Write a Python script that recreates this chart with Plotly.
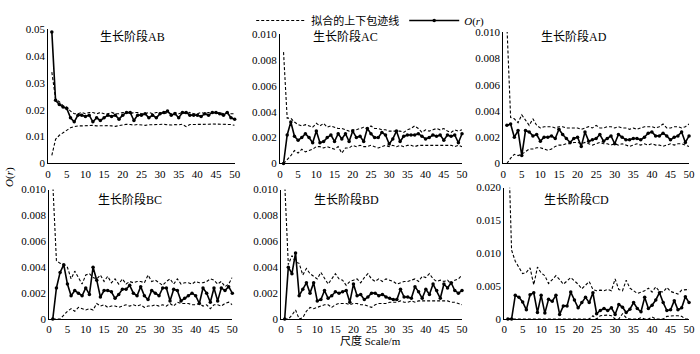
import plotly.graph_objects as go

r = list(range(1, 51))
panel_names = ["生长阶段AB", "生长阶段AC", "生长阶段AD", "生长阶段BC", "生长阶段BD", "生长阶段CD"]
x_ticks = [0, 5, 10, 15, 20, 25, 30, 35, 40, 45, 50]

AB_O = [0.049, 0.0235, 0.022, 0.021, 0.0205, 0.017, 0.0155, 0.018, 0.018, 0.0175,
        0.018, 0.0155, 0.017, 0.016, 0.017, 0.018, 0.0175, 0.018, 0.0165, 0.018,
        0.019, 0.019, 0.016, 0.018, 0.018, 0.0185, 0.017, 0.018, 0.017, 0.0185,
        0.019, 0.0195, 0.018, 0.0185, 0.017, 0.019, 0.019, 0.018, 0.018, 0.018,
        0.0175, 0.0185, 0.018, 0.019, 0.019, 0.0185, 0.018, 0.019, 0.017, 0.0165]
AB_up = [0.034, 0.024, 0.023, 0.0215, 0.021, 0.0195, 0.0185, 0.0185, 0.019, 0.0185,
         0.019, 0.019, 0.0185, 0.019, 0.0185, 0.0185, 0.019, 0.0185, 0.0185, 0.019,
         0.019, 0.0185, 0.019, 0.019, 0.0185, 0.0185, 0.019, 0.0185, 0.019, 0.019,
         0.0185, 0.019, 0.0185, 0.019, 0.0185, 0.019, 0.0185, 0.019, 0.0185, 0.0185,
         0.019, 0.0185, 0.019, 0.019, 0.0185, 0.019, 0.0185, 0.019, 0.0185, 0.0185]
AB_lo = [0.003, 0.009, 0.0105, 0.0115, 0.0125, 0.0133, 0.0137, 0.014, 0.014, 0.0141,
         0.0141, 0.0142, 0.014, 0.0141, 0.0142, 0.0141, 0.014, 0.0138, 0.0141, 0.0143,
         0.0146, 0.0145, 0.0143, 0.0145, 0.0144, 0.0142, 0.0144, 0.0145, 0.0144, 0.0145,
         0.0146, 0.0144, 0.0143, 0.0145, 0.0144, 0.0146, 0.0137, 0.0145, 0.0145, 0.0146,
         0.0145, 0.0144, 0.0146, 0.0147, 0.0147, 0.0146, 0.0145, 0.0146, 0.0145, 0.0142]

AC_O = [0, 0.0022, 0.0032, 0.0021, 0.0018, 0.002, 0.0023, 0.002, 0.0016, 0.0025,
        0.0016, 0.0017, 0.002, 0.0022, 0.0017, 0.0023, 0.0019, 0.0023, 0.0017, 0.0025,
        0.002, 0.0021, 0.0017, 0.0027, 0.0023, 0.002, 0.002, 0.0024, 0.0022, 0.0015,
        0.0019, 0.0025, 0.0017, 0.0021, 0.0022, 0.0022, 0.0022, 0.0023, 0.0021, 0.0019,
        0.002, 0.0022, 0.0021, 0.0022, 0.0018, 0.0022, 0.0021, 0.0022, 0.0016, 0.0023]
AC_up = [0.0086, 0.0035, 0.0035, 0.0032, 0.003, 0.0029, 0.003, 0.0029, 0.0028, 0.0031,
         0.0029, 0.0031, 0.0028, 0.0029, 0.0028, 0.0027, 0.0027, 0.0026, 0.0025, 0.0026,
         0.0026, 0.0027, 0.0028, 0.0027, 0.0029, 0.0027, 0.0027, 0.0026, 0.0026, 0.0025,
         0.0025, 0.0025, 0.0025, 0.0024, 0.0026, 0.0027, 0.0029, 0.0027, 0.0024, 0.0026,
         0.0025, 0.0026, 0.0027, 0.0026, 0.0027, 0.0025, 0.0024, 0.0026, 0.0025, 0.0026]
AC_lo = [0, 0.0003, 0.0006, 0.001, 0.0008, 0.0011, 0.0009, 0.001, 0.0011, 0.0013,
         0.0013, 0.0012, 0.0013, 0.0012, 0.0011, 0.0013, 0.0008, 0.0012, 0.0012, 0.0014,
         0.0013, 0.0014, 0.0013, 0.0013, 0.0014, 0.0013, 0.0012, 0.0013, 0.0014, 0.0013,
         0.0014, 0.0013, 0.0014, 0.0013, 0.0014, 0.0014, 0.0013, 0.0014, 0.0014, 0.0014,
         0.0014, 0.0014, 0.0014, 0.0014, 0.0014, 0.0014, 0.0014, 0.0013, 0.0014, 0.0013]

AD_O = [0.0029, 0.003, 0.002, 0.0025, 0.0006, 0.0025, 0.0024, 0.0021, 0.0022, 0.0017,
        0.002, 0.002, 0.0021, 0.0019, 0.0026, 0.0022, 0.0019, 0.0016, 0.0019, 0.002,
        0.0013, 0.0024, 0.0017, 0.0018, 0.0019, 0.0022, 0.0017, 0.0019, 0.0021, 0.0015,
        0.0022, 0.002, 0.0018, 0.0018, 0.0019, 0.0019, 0.0018, 0.002, 0.0023, 0.0024,
        0.0021, 0.0021, 0.0023, 0.0021, 0.0018, 0.002, 0.0021, 0.0024, 0.0016, 0.0021]
AD_up = [0.0105, 0.0035, 0.0034, 0.0031, 0.0037, 0.0033, 0.0029, 0.0034, 0.0029, 0.0027,
         0.0028, 0.0028, 0.0028, 0.0027, 0.0028, 0.0028, 0.0027, 0.0027, 0.0027, 0.0027,
         0.0026, 0.0027, 0.0028, 0.0027, 0.0029, 0.0027, 0.0027, 0.0028, 0.0028, 0.0027,
         0.0028, 0.0027, 0.0027, 0.0026, 0.0027, 0.0026, 0.0027, 0.0028, 0.0028, 0.0028,
         0.0027, 0.0028, 0.003, 0.0027, 0.0027, 0.0028, 0.0028, 0.0027, 0.0028, 0.003]
AD_lo = [0, 0.0004, 0.0007, 0.0006, 0.0007, 0.0009, 0.0011, 0.0011, 0.0012, 0.0012,
         0.0011, 0.001, 0.0011, 0.0013, 0.0014, 0.0014, 0.0015, 0.0015, 0.0016, 0.0016,
         0.0015, 0.0016, 0.0015, 0.0014, 0.0015, 0.0016, 0.0015, 0.0015, 0.0014, 0.0015,
         0.0014, 0.0015, 0.0014, 0.0013, 0.0014, 0.0015, 0.0014, 0.0015, 0.0014, 0.0015,
         0.0014, 0.0014, 0.0013, 0.0014, 0.0015, 0.0014, 0.0015, 0.0015, 0.0014, 0.0013]

BC_O = [0, 0.0024, 0.0036, 0.0042, 0.0027, 0.0018, 0.0022, 0.002, 0.0018, 0.0024,
        0.0019, 0.004, 0.003, 0.0017, 0.0022, 0.0022, 0.0021, 0.0016, 0.0019, 0.0023,
        0.0023, 0.0026, 0.002, 0.0018, 0.0025, 0.0018, 0.0015, 0.0022, 0.002, 0.0018,
        0.0024, 0.0024, 0.0014, 0.0023, 0.0022, 0.0014, 0.0016, 0.0018, 0.002, 0.0018,
        0.0012, 0.0024, 0.002, 0.0013, 0.0024, 0.0014, 0.0024, 0.0022, 0.0025, 0.002]
BC_up = [0.0105, 0.0045, 0.0043, 0.0042, 0.004, 0.0031, 0.0037, 0.0032, 0.0027, 0.0034,
         0.0035, 0.0032, 0.0031, 0.0034, 0.0029, 0.0033, 0.0028, 0.0031, 0.0027, 0.0031,
         0.0027, 0.0029, 0.0028, 0.0029, 0.0029, 0.0028, 0.0034, 0.0029, 0.003, 0.0028,
         0.0026, 0.0029, 0.0031, 0.0027, 0.0031, 0.0027, 0.0028, 0.0028, 0.0027, 0.0029,
         0.0028, 0.0028, 0.0029, 0.0031, 0.003, 0.0027, 0.0029, 0.0025, 0.0027, 0.0032]
BC_lo = [0, 0, 0, 0.0003, 0.0006, 0.0008, 0.0006, 0.0009, 0.0008, 0.0007,
         0.0008, 0.0007, 0.0012, 0.001, 0.0011, 0.0009, 0.001, 0.001, 0.0009, 0.001,
         0.0011, 0.001, 0.0011, 0.001, 0.0011, 0.0009, 0.001, 0.001, 0.0011, 0.001,
         0.0011, 0.001, 0.0012, 0.001, 0.0013, 0.0012, 0.0012, 0.0012, 0.0011, 0.0011,
         0.0012, 0.001, 0.0011, 0.0008, 0.0011, 0.0011, 0.001, 0.0012, 0.0013, 0.0011]

BD_O = [0, 0.004, 0.0035, 0.0051, 0.0018, 0.0023, 0.0028, 0.002, 0.0028, 0.0014,
        0.0015, 0.0022, 0.0016, 0.0018, 0.0021, 0.002, 0.0021, 0.0022, 0.0013, 0.0027,
        0.0018, 0.0019, 0.0015, 0.0017, 0.002, 0.002, 0.0018, 0.0019, 0.0017, 0.0016,
        0.0015, 0.0015, 0.0023, 0.0017, 0.0017, 0.0016, 0.0025, 0.0021, 0.0016, 0.0023,
        0.0019, 0.0027, 0.0022, 0.0016, 0.0027, 0.0024, 0.0028, 0.0022, 0.002, 0.0022]
BD_up = [0.0105, 0.0042, 0.0049, 0.0044, 0.0043, 0.0034, 0.0039, 0.0035, 0.0033, 0.0031,
         0.0036, 0.0032, 0.0027, 0.0031, 0.0035, 0.0031, 0.003, 0.0026, 0.0029, 0.003,
         0.0031, 0.0028, 0.0032, 0.0035, 0.0031, 0.0029, 0.0031, 0.0029, 0.0031, 0.003,
         0.0029, 0.0027, 0.0028, 0.0029, 0.0029, 0.003, 0.0031, 0.0029, 0.0033, 0.0032,
         0.0035, 0.0031, 0.0029, 0.003, 0.0029, 0.003, 0.0027, 0.003, 0.0031, 0.0034]
BD_lo = [0, 0, 0.0003, 0.0007, 0, 0.0001, 0.0006, 0.0009, 0.0008, 0.0009,
         0.001, 0.0011, 0.0011, 0.0009, 0.0011, 0.0012, 0.0012, 0.0012, 0.0011, 0.0012,
         0.0012, 0.0011, 0.0011, 0.001, 0.0009, 0.0011, 0.0012, 0.0012, 0.0012, 0.0013,
         0.0013, 0.0013, 0.0014, 0.0013, 0.0013, 0.0014, 0.0013, 0.0014, 0.0014, 0.0014,
         0.0014, 0.0014, 0.0014, 0.0014, 0.0014, 0.0014, 0.0013, 0.0013, 0.0012, 0.0011]

CD_O = [0, 0, 0.0036, 0.0033, 0.0026, 0.0014, 0.0037, 0.004, 0.001, 0.0036,
        0.0009, 0.003, 0.0027, 0.0036, 0.0007, 0.002, 0.002, 0.0041, 0.0029, 0.0017,
        0.0025, 0.0033, 0.0025, 0.004, 0.0008, 0.0013, 0.0016, 0.0013, 0.0017, 0.0007,
        0.0022, 0.0018, 0.001, 0.0015, 0.0025, 0.0016, 0.0011, 0.0033, 0.0016, 0.0021,
        0.0029, 0.004, 0.0025, 0.0013, 0.0014, 0.0028, 0.0014, 0.0017, 0.0034, 0.0025]
CD_up = [0.0295, 0.0105, 0.0088, 0.0078, 0.0069, 0.0071, 0.0078, 0.0052, 0.0079, 0.007,
         0.0066, 0.0054, 0.006, 0.0066, 0.006, 0.0053, 0.0058, 0.0063, 0.0058, 0.0053,
         0.0046, 0.0052, 0.0057, 0.0045, 0.0043, 0.0044, 0.0043, 0.0045, 0.0043, 0.0061,
         0.0045, 0.0043, 0.0059, 0.0047, 0.0043, 0.0039, 0.0041, 0.0043, 0.0047, 0.0041,
         0.0049, 0.0042, 0.0041, 0.0048, 0.0042, 0.004, 0.0038, 0.0044, 0.0044, 0.0045]
CD_lo = [0, 0, 0, 0, 0, 0, 0, 0, 0, 0,
         0, 0, 0, 0, 0, 0, 0, 0, 0, 0,
         0, 0, 0, 0.0005, 0, 0.0005, 0.0006, 0.0006, 0.0005, 0,
         0, 0.0008, 0.0002, 0, 0, 0, 0.0002, 0, 0, 0.0003,
         0, 0, 0, 0.0004, 0.0005, 0.0005, 0.0005, 0.0004, 0, 0]

O_series = [AB_O, AC_O, AD_O, BC_O, BD_O, CD_O]
up_series = [AB_up, AC_up, AD_up, BC_up, BD_up, CD_up]
lo_series = [AB_lo, AC_lo, AD_lo, BC_lo, BD_lo, CD_lo]

y_tickvals = [
    [0, 0.01, 0.02, 0.03, 0.04, 0.05],
    [0, 0.002, 0.004, 0.006, 0.008, 0.010],
    [0, 0.002, 0.004, 0.006, 0.008, 0.010],
    [0, 0.002, 0.004, 0.006, 0.008, 0.010],
    [0, 0.002, 0.004, 0.006, 0.008, 0.010],
    [0, 0.005, 0.010, 0.015, 0.020],
]
y_ticktext = [
    ["0", "0.01", "0.02", "0.03", "0.04", "0.05"],
    ["0", "0.002", "0.004", "0.006", "0.008", "0.010"],
    ["0", "0.002", "0.004", "0.006", "0.008", "0.010"],
    ["0", "0.002", "0.004", "0.006", "0.008", "0.010"],
    ["0", "0.002", "0.004", "0.006", "0.008", "0.010"],
    ["0", "0.005", "0.010", "0.015", "0.020"],
]
y_max = [0.05, 0.010, 0.010, 0.010, 0.010, 0.020]

W, H = 700, 354
# pixel layout of each panel: (x0, x1, ytop, ybottom)
px = [(45.7, 234.7, 24, 163), (280.5, 465, 29, 163), (506.7, 695, 27, 163),
      (46.7, 232.3, 190, 324), (281.7, 465, 190, 324), (507.7, 695, 188, 324)]
title_xfrac = [0.45, 0.36, 0.38, 0.44, 0.36, 0.39]
title_ypx = [32, 32, 32, 200, 200, 200]

FONT = "Liberation Serif, Noto Sans CJK SC, serif"
fig = go.Figure()
layout = {}
annotations = []
for i in range(6):
    k = "" if i == 0 else str(i + 1)
    xa, ya = "x" + k, "y" + k
    fig.add_trace(go.Scatter(x=r, y=up_series[i], xaxis=xa, yaxis=ya, mode="lines",
                             line=dict(color="black", width=1.1, dash="3px,2px"),
                             name="拟合的上下包迹线", legendgroup="env", showlegend=(i == 0)))
    fig.add_trace(go.Scatter(x=r, y=lo_series[i], xaxis=xa, yaxis=ya, mode="lines",
                             line=dict(color="black", width=1.1, dash="3px,2px"),
                             name="拟合的上下包迹线", legendgroup="env", showlegend=False))
    fig.add_trace(go.Scatter(x=r, y=O_series[i], xaxis=xa, yaxis=ya, mode="lines+markers",
                             line=dict(color="black", width=1.6),
                             marker=dict(color="black", size=3.5),
                             cliponaxis=False,
                             name="<i>O</i>(<i>r</i>)", legendgroup="o", showlegend=(i == 0)))
    x0, x1, yt, yb = px[i]
    layout["xaxis" + k] = dict(domain=[x0 / W, x1 / W], anchor=ya, range=[0, 50],
                               tickvals=x_ticks, showline=True, linecolor="black", linewidth=1,
                               showgrid=False, zeroline=False, ticks="",
                               tickfont=dict(family=FONT, size=11, color="black"))
    layout["yaxis" + k] = dict(domain=[1 - yb / H, 1 - yt / H], anchor=xa, range=[0, y_max[i]],
                               tickvals=y_tickvals[i], ticktext=y_ticktext[i],
                               showline=True, linecolor="black", linewidth=1,
                               showgrid=False, zeroline=False, ticks="",
                               tickfont=dict(family=FONT, size=11, color="black"))
    annotations.append(dict(text=panel_names[i], xref=xa + " domain", yref="paper",
                            x=title_xfrac[i], y=1 - title_ypx[i] / H, xanchor="center",
                            yanchor="middle", showarrow=False,
                            font=dict(family=FONT, size=12, color="black")))

annotations.append(dict(text="<i>O</i>(<i>r</i>)", xref="paper", yref="paper", x=6 / W,
                        y=1 - 177 / H, textangle=-90, showarrow=False, xanchor="center",
                        yanchor="middle", font=dict(family=FONT, size=11, color="black")))
annotations.append(dict(text="尺度 Scale/m", xref="paper", yref="paper", x=372 / W,
                        y=1 - 346 / H, showarrow=False, xanchor="center", yanchor="middle",
                        font=dict(family=FONT, size=11, color="black")))

fig.update_layout(**layout)
fig.update_layout(
    width=W, height=H, margin=dict(l=0, r=0, t=0, b=0),
    plot_bgcolor="white", paper_bgcolor="white",
    annotations=annotations,
    legend=dict(orientation="h", x=372 / W, y=1.0, xanchor="center", yanchor="top",
                font=dict(family=FONT, size=11, color="black"), bgcolor="rgba(0,0,0,0)",
                itemwidth=50, tracegroupgap=0),
)
fig.write_html("out.html")
